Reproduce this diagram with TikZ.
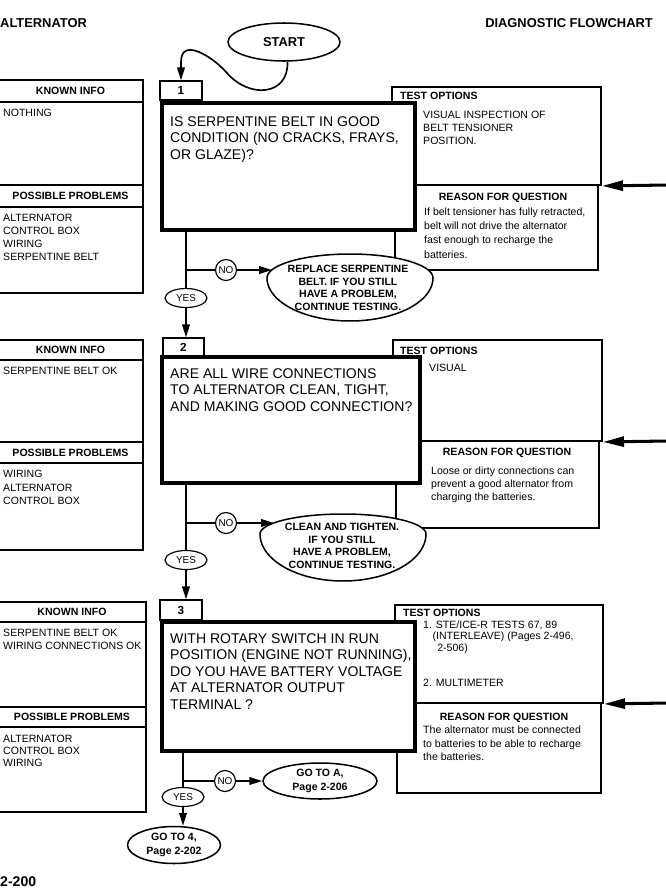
\documentclass[tikz,border=0pt]{standalone}
\usepackage{fontspec}
\setmainfont{Liberation Sans}
\usetikzlibrary{arrows.meta,shapes.geometric}
\newcommand{\pxu}{0.03cm}
\newcommand{\qfont}{\fontsize{12}{14.2}\selectfont}
\newcommand{\smfont}{\fontsize{9}{11}\selectfont}
\tikzset{
  page/.style={x=0.03cm, y=-0.03cm},
  qbox/.style={draw, line width=3.4pt, fill=white, inner sep=0pt},           % question box
  numbox/.style={draw, line width=1.1pt, inner sep=0pt,
                 font=\bfseries\fontsize{10}{12}\selectfont},               % step number tab
  pnl/.style={draw, line width=1.1pt, inner sep=0pt, minimum width=145*\pxu}, % left panel part
  phead/.style={pnl, font=\bfseries\smfont},
  tobox/.style={draw, line width=1.6pt, inner sep=0pt},                     % test options
  rqbox/.style={draw, line width=0.9pt, inner sep=0pt},                     % reason for question
  txt/.style={inner sep=0pt, align=left, font=\smfont},
  htxt/.style={inner sep=0pt, font=\bfseries\smfont},
  qtxt/.style={inner sep=0pt, align=left, font=\qfont},
  oval/.style={ellipse, draw, line width=1.3pt, fill=white, inner sep=0pt,
               align=center, font=\bfseries\fontsize{9}{12.5}\selectfont},
  egg/.style={draw, line width=1.3pt, fill=white},                          % hand drawn oval
  ovtxt/.style={inner sep=0pt, align=center, font=\bfseries\fontsize{9}{10.8}\selectfont},
  yesn/.style={ellipse, draw, line width=1pt, fill=white, inner sep=0pt,
               minimum width=42*\pxu, minimum height=19*\pxu, font=\fontsize{8.5}{10}\selectfont},
  non/.style={circle, draw, line width=1pt, fill=white, inner sep=0pt,
              minimum size=21*\pxu, font=\fontsize{8.5}{10}\selectfont},
  fline/.style={line width=1.4pt},
  flow/.style={line width=1.4pt, -{Triangle[length=11pt,width=6.5pt]}},
  sidearr/.style={line width=2.6pt, -{Triangle[length=18pt,width=8.5pt]}},
  ttl/.style={inner sep=0pt, font=\bfseries\fontsize{11}{13}\selectfont},
}
\begin{document}
\begin{tikzpicture}[page]
  \useasboundingbox (0,0) rectangle (665,889);
  % page headings
  \node[ttl, anchor=base west] (hdl) at (0,27) {ALTERNATOR};
  \node[ttl, anchor=base east] (hdr) at (653,27) {DIAGNOSTIC FLOWCHART};
  \node[ttl, anchor=base west, font=\bfseries\fontsize{12}{14}\selectfont] (pgno) at (0,886) {2-200};
  \node[oval, minimum width=112*\pxu, minimum height=38*\pxu,
        font=\bfseries\fontsize{11}{13}\selectfont] (start) at (284,42) {START};

  % ---- step 1
  \node[phead, minimum height=22*\pxu] (kh1) at (70.5,91) {KNOWN INFO};
  \node[pnl, minimum height=83*\pxu] (kb1) at (70.5,143.5) {};
  \node[phead, minimum height=22*\pxu] (ph1) at (70.5,196) {POSSIBLE PROBLEMS};
  \node[pnl, minimum height=86*\pxu] (pb1) at (70.5,250) {};
  \node[txt, anchor=north west] (ki1) at (3,109) {NOTHING};
  \node[txt, anchor=north west] (pp1) at (3,214) {ALTERNATOR\\CONTROL BOX\\WIRING\\SERPENTINE BELT};
  \node[rqbox, minimum width=203*\pxu, minimum height=85*\pxu] (rq1) at (496.5,227.5) {};
  \node[tobox, minimum width=209*\pxu, minimum height=98*\pxu] (to1) at (496.5,136) {};
  \node[numbox, minimum width=42*\pxu, minimum height=19*\pxu] (lbl1) at (181,90.5) {1};
  \node[qbox, minimum width=253*\pxu, minimum height=127*\pxu] (q1) at (288.5,166.5) {};
  \node[qtxt, anchor=north west] (qt1) at (170,116)
       {IS SERPENTINE BELT IN GOOD\\CONDITION (NO CRACKS, FRAYS,\\OR GLAZE)?};
  \node[htxt, anchor=west] (toh1) at (400,96) {TEST OPTIONS};
  \node[txt, anchor=north west] (tot1) at (423,111) {VISUAL INSPECTION OF\\BELT TENSIONER\\POSITION.};
  \node[htxt] (rqh1) at (503,198) {REASON FOR QUESTION};
  \node[txt, anchor=north west, font=\fontsize{9}{12}\selectfont] (rqt1) at (424,208)
       {If belt tensioner has fully retracted,\\belt will not drive the alternator\\fast enough to recharge the\\batteries.};
  \draw[flow] (start.-80) .. controls (289,95) and (250,100) .. (226,72)
              .. controls (214,58) and (181,36) .. (181,62) -- (lbl1.north);
  \coordinate (d1) at (186,230);
  \coordinate (j1) at (186,270);
  \node[yesn] (yes1) at (186,298) {YES};
  \node[non] (no1) at (226,270) {NO};
  \draw[fline] (d1) -- (yes1.north);
  \draw[fline] (j1) -- (no1.west);
  % oval a little wider near its top, as drawn by hand
  \draw[egg] plot[variable=\t,domain=0:360,samples=91]
       ({350+83*cos(\t)},{278-((\t<=180)*24+(\t>180)*43)*sin(\t)}) -- cycle;
  \node[ovtxt] (rep1) at (348,288) {REPLACE SERPENTINE\\BELT. IF YOU STILL\\HAVE A PROBLEM,\\CONTINUE TESTING.};
  \coordinate (rep1w) at (272,270);
  \draw[flow] (no1.east) -- (rep1w);
  \coordinate (in1) at (668,185);
  \draw[sidearr] (in1) -- (to1.south east);

  % ---- step 2
  \node[phead, minimum height=20*\pxu] (kh2) at (70.5,350) {KNOWN INFO};
  \node[pnl, minimum height=82*\pxu] (kb2) at (70.5,401) {};
  \node[phead, minimum height=21*\pxu] (ph2) at (70.5,452.5) {POSSIBLE PROBLEMS};
  \node[pnl, minimum height=87*\pxu] (pb2) at (70.5,506.5) {};
  \node[txt, anchor=north west] (ki2) at (3,367) {SERPENTINE BELT OK};
  \node[txt, anchor=north west, font=\fontsize{9}{11.5}\selectfont] (pp2) at (3,470) {WIRING\\ALTERNATOR\\CONTROL BOX};
  \node[rqbox, minimum width=203*\pxu, minimum height=87*\pxu] (rq2) at (497.5,484.5) {};
  \node[tobox, minimum width=209*\pxu, minimum height=101*\pxu] (to2) at (497.5,390.5) {};
  \node[numbox, minimum width=41*\pxu, minimum height=18*\pxu] (lbl2) at (183.5,347) {2};
  \node[qbox, minimum width=258*\pxu, minimum height=126*\pxu] (q2) at (291,420) {};
  \node[qtxt, anchor=north west] (qt2) at (170,368)
       {ARE ALL WIRE CONNECTIONS\\TO ALTERNATOR CLEAN, TIGHT,\\AND MAKING GOOD CONNECTION?};
  \node[htxt, anchor=west] (toh2) at (400,351) {TEST OPTIONS};
  \node[txt, anchor=north west] (tot2) at (429,364) {VISUAL};
  \node[htxt] (rqh2) at (507,453) {REASON FOR QUESTION};
  \node[txt, anchor=north west] (rqt2) at (431,467)
       {Loose or dirty connections can\\prevent a good alternator from\\charging the batteries.};
  \draw[flow] (yes1.south) -- (yes1.south |- lbl2.north);
  \coordinate (d2) at (186,483);
  \coordinate (j2) at (186,523);
  \node[yesn] (yes2) at (186,560) {YES};
  \node[non] (no2) at (226,523) {NO};
  \draw[fline] (d2) -- (yes2.north);
  \draw[fline] (j2) -- (no2.west);
  \draw[egg] plot[variable=\t,domain=0:360,samples=91]
       ({343+83*cos(\t)},{534-((\t<=180)*20+(\t>180)*47)*sin(\t)}) -- cycle;
  \node[ovtxt] (cln) at (342,546) {CLEAN AND TIGHTEN.\\IF YOU STILL\\HAVE A PROBLEM,\\CONTINUE TESTING.};
  \coordinate (clnw) at (274,523);
  \draw[flow] (no2.east) -- (clnw);
  \coordinate (in2) at (668,441);
  \draw[sidearr] (in2) -- (to2.south east);

  % ---- step 3
  \node[phead, minimum width=148*\pxu, minimum height=20*\pxu] (kh3) at (72,612) {KNOWN INFO};
  \node[pnl, minimum width=148*\pxu, minimum height=85*\pxu] (kb3) at (72,664.5) {};
  \node[phead, minimum width=148*\pxu, minimum height=20*\pxu] (ph3) at (72,717) {POSSIBLE PROBLEMS};
  \node[pnl, minimum width=148*\pxu, minimum height=85*\pxu] (pb3) at (72,769.5) {};
  \node[txt, anchor=north west] (ki3) at (3,629) {SERPENTINE BELT OK\\WIRING CONNECTIONS OK};
  \node[txt, anchor=north west, font=\fontsize{9}{10.4}\selectfont] (pp3) at (3,735) {ALTERNATOR\\CONTROL BOX\\WIRING};
  \node[rqbox, minimum width=204*\pxu, minimum height=90*\pxu] (rq3) at (499,748) {};
  \node[tobox, minimum width=208*\pxu, minimum height=98*\pxu] (to3) at (499,654) {};
  \node[numbox, minimum width=42*\pxu, minimum height=20*\pxu] (lbl3) at (181,610) {3};
  \node[qbox, minimum width=253*\pxu, minimum height=129*\pxu] (q3) at (288.5,686.5) {};
  \node[qtxt, anchor=north west] (qt3) at (170,633)
       {WITH ROTARY SWITCH IN RUN\\POSITION (ENGINE NOT RUNNING),\\DO YOU HAVE BATTERY VOLTAGE\\AT ALTERNATOR OUTPUT\\TERMINAL ?};
  \node[htxt, anchor=west] (toh3) at (403,613) {TEST OPTIONS};
  \node[txt, anchor=north west, font=\fontsize{9}{9.8}\selectfont] (tot3a) at (423,620.5)
       {1. STE/ICE-R TESTS 67, 89\\\hspace*{8pt}(INTERLEAVE) (Pages 2-496,\\\hspace*{12pt}2-506)};
  \node[txt, anchor=north west] (tot3b) at (423,679) {2. MULTIMETER};
  \node[htxt] (rqh3) at (504,718) {REASON FOR QUESTION};
  \node[txt, anchor=north west, font=\fontsize{9}{11.5}\selectfont] (rqt3) at (423,726)
       {The alternator must be connected\\to batteries to be able to recharge\\the batteries.};
  \draw[flow] (yes2.south) -- (yes2.south |- lbl3.north);
  \coordinate (d3) at (183,751);
  \coordinate (j3) at (183,781);
  \node[yesn] (yes3) at (183,797) {YES};
  \node[non] (no3) at (225,781) {NO};
  \node[oval, minimum width=114*\pxu, minimum height=36*\pxu] (goa) at (320,781) {GO TO A,\\Page 2-206};
  \node[oval, minimum width=93*\pxu, minimum height=37*\pxu] (go4) at (174,845) {GO TO 4,\\Page 2-202};
  \draw[fline] (d3) -- (yes3.north);
  \draw[fline] (j3) -- (no3.west);
  \draw[flow] (no3.east) -- (goa.west);
  \draw[flow] (yes3.south) -- (yes3.south |- go4.north);
  \coordinate (in3) at (668,703);
  \draw[sidearr] (in3) -- (to3.south east);
\end{tikzpicture}
\end{document}
